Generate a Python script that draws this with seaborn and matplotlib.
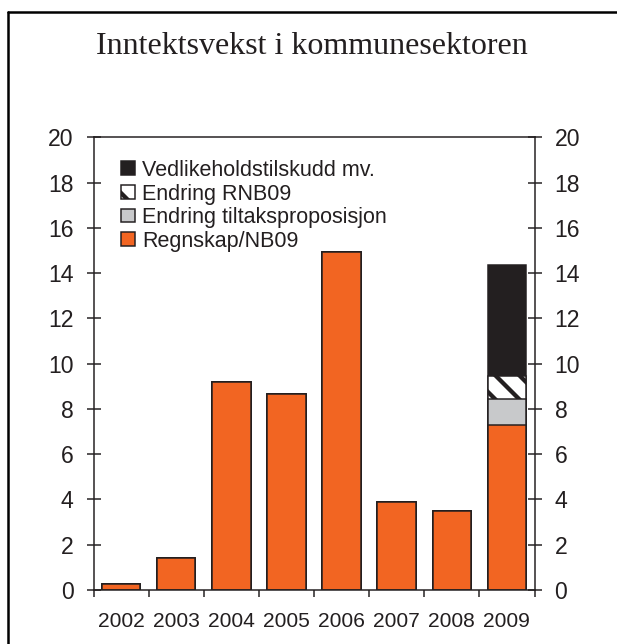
import numpy as np
import pandas as pd
import matplotlib
matplotlib.use("Agg")
import matplotlib.pyplot as plt
from matplotlib.patches import Patch
from matplotlib.lines import Line2D
import seaborn as sns

# ---- data ----
years = ["2002", "2003", "2004", "2005", "2006", "2007", "2008", "2009"]
regnskap = [0.26, 1.4, 9.2, 8.65, 14.95, 3.9, 3.5, 7.28]
tiltak = [0, 0, 0, 0, 0, 0, 0, 1.17]
rnb = [0, 0, 0, 0, 0, 0, 0, 0.99]
vedlikehold = [0, 0, 0, 0, 0, 0, 0, 4.9]
yticks = [0, 2, 4, 6, 8, 10, 12, 14, 16, 18, 20]
title = "Inntektsvekst i kommunesektoren"
labels = ["Vedlikeholdstilskudd mv.", "Endring RNB09",
          "Endring tiltaksproposisjon", "Regnskap/NB09"]

# ---- style ----
sns.set_style("white")
DPI = 72
plt.rcParams["font.family"] = ["Liberation Sans", "DejaVu Sans"]
plt.rcParams["hatch.linewidth"] = 4.3
plt.rcParams["hatch.color"] = "#231F20"

ORANGE = "#F26522"
GRAY = "#C8C9CB"
BLACK = "#231F20"
EDGE = "#231F20"
FS_Y = 23
FS_X = 21
FS_LEG = 21.5

df = pd.DataFrame({"year": years, "regnskap": regnskap, "tiltak": tiltak,
                   "rnb": rnb, "vedlikehold": vedlikehold})
c1 = df["regnskap"].to_numpy()
c2 = c1 + df["tiltak"].to_numpy()
c3 = c2 + df["rnb"].to_numpy()
c4 = c3 + df["vedlikehold"].to_numpy()

fig = plt.figure(figsize=(617 / DPI, 644 / DPI), dpi=DPI)
fig.patch.set_facecolor("white")
ax = fig.add_axes([93.5 / 617, 1 - 590 / 644, 441 / 617, 452.7 / 644])

common = dict(x=df["year"], width=0.7, saturation=1, errorbar=None,
              edgecolor=EDGE, linewidth=1.5, ax=ax, order=years)
sns.barplot(y=c4, color=BLACK, **common)
sns.barplot(y=c3, color="white", hatch="\\", **common)
sns.barplot(y=c2, color=GRAY, **common)
sns.barplot(y=c1, color=ORANGE, **common)

ax.set_xlim(-0.5, 7.5)
ax.set_ylim(0, 20)
ax.set_yticks(yticks)
ax.set_xlabel("")
ax.set_ylabel("")
for s in ax.spines.values():
    s.set_visible(True)
    s.set_linewidth(1.5)
    s.set_color(EDGE)

ax.tick_params(axis="y", which="major", direction="inout", length=14,
               width=1.5, color=EDGE, left=True, right=True,
               labelleft=True, labelright=True, labelsize=FS_Y, pad=13,
               labelcolor="#231F20")
ax.tick_params(axis="x", which="major", length=0, pad=22,
               labelsize=FS_X, labelcolor="#231F20")
ax.set_xticks(np.arange(-0.5, 8.0, 1.0), minor=True)
ax.tick_params(axis="x", which="minor", direction="out", length=7,
               width=1.5, color=EDGE, bottom=True)

handles = [
    Patch(facecolor=BLACK, edgecolor=EDGE, linewidth=1.5),
    Patch(facecolor="white", edgecolor=EDGE, linewidth=1.5, hatch="\\"),
    Patch(facecolor=GRAY, edgecolor=EDGE, linewidth=1.5),
    Patch(facecolor=ORANGE, edgecolor=EDGE, linewidth=1.5),
]
leg = ax.legend(handles, labels, loc="upper left",
                bbox_to_anchor=(0.062, 0.95), frameon=False,
                fontsize=FS_LEG, handlelength=0.68, handleheight=0.62,
                handletextpad=0.3, labelspacing=0.12, borderpad=0,
                borderaxespad=0)
for t in leg.get_texts():
    t.set_color("#231F20")

fig.text(312 / 617, 1 - 47 / 644, title, ha="center", va="center",
         fontsize=32, family=["Liberation Serif", "DejaVu Serif"],
         color="#231F20")

# outer frame (left and top edges visible)
fig.add_artist(Line2D([8 / 617, 8 / 617], [0, 1 - 12 / 644],
                      transform=fig.transFigure, color="black", linewidth=2.5))
fig.add_artist(Line2D([8 / 617, 1], [1 - 12 / 644, 1 - 12 / 644],
                      transform=fig.transFigure, color="black", linewidth=2.5))

fig.savefig("out.png", dpi=DPI, facecolor="white")
